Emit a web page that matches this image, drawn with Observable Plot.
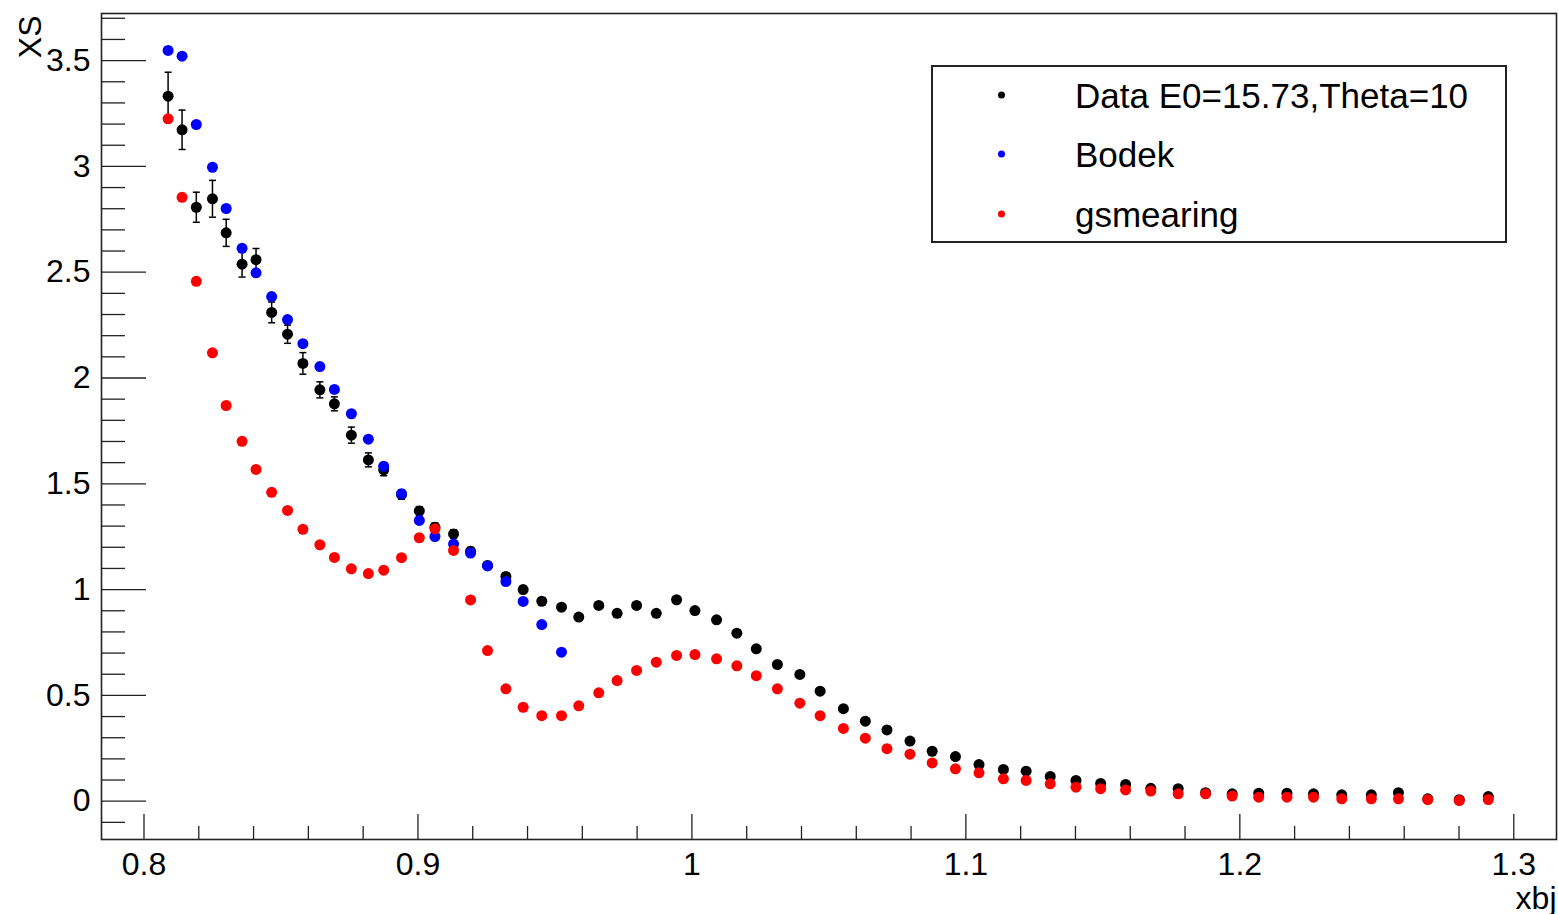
<!DOCTYPE html>
<html>
<head>
<meta charset="utf-8">
<script src="https://cdn.jsdelivr.net/npm/d3@7"></script>
<script src="https://cdn.jsdelivr.net/npm/@observablehq/plot@0.6"></script>
<style>
  html, body { margin: 0; padding: 0; background: #fff; overflow: hidden; }
  #wrap { position: relative; width: 1558px; height: 914px; font-family: "Liberation Sans", Arial, Helvetica, sans-serif; }
  #wrap svg { display: block; }
  #legend { position: absolute; left: 931px; top: 65px; width: 572px; height: 174px; border: 2px solid #222; background: #fff; }
  .lrow { position: absolute; left: 0; width: 100%; height: 0; }
  .ldot { position: absolute; left: 65px; width: 7px; height: 7px; border-radius: 50%; transform: translateY(-50%); }
  .ltxt { position: absolute; left: 142px; font-size: 35px; line-height: 1; white-space: nowrap; transform: translateY(-50%); color: #000; }
</style>
</head>
<body>
<div id="wrap"><div id="chart"></div><div id="legend"></div></div>
<script>
// ---- data ----
const xbj = [0.8088, 0.8139, 0.8191, 0.8250, 0.8300, 0.8358, 0.8409, 0.8466, 0.8524, 0.8580,
             0.8642, 0.8695, 0.8757, 0.8819, 0.8875, 0.8940, 0.9005, 0.9062, 0.9130, 0.9192,
             0.9254, 0.9321, 0.9384, 0.9452, 0.9524, 0.9587, 0.9660, 0.9727, 0.9798, 0.9870,
             0.9944, 1.0011, 1.0090, 1.0164, 1.0235, 1.0312, 1.0394, 1.0468, 1.0553, 1.0633,
             1.0712, 1.0796, 1.0877, 1.0962, 1.1048, 1.1137, 1.1220, 1.1308, 1.1402, 1.1492,
             1.1583, 1.1675, 1.1775, 1.1875, 1.1972, 1.2069, 1.2172, 1.2269, 1.2372, 1.2480,
             1.2579, 1.2686, 1.2801, 1.2907];

const dataXS = [3.332, 3.173, 2.807, 2.847, 2.686, 2.538, 2.559, 2.310, 2.207, 2.069,
                1.944, 1.878, 1.730, 1.613, 1.566, 1.449, 1.372, 1.295, 1.263, 1.181,
                1.114, 1.062, 1.000, 0.945, 0.917, 0.870, 0.925, 0.888, 0.925, 0.888,
                0.952, 0.901, 0.857, 0.794, 0.720, 0.646, 0.599, 0.520, 0.437, 0.378,
                0.337, 0.284, 0.236, 0.211, 0.173, 0.150, 0.142, 0.117, 0.098, 0.084,
                0.079, 0.061, 0.059, 0.040, 0.035, 0.038, 0.038, 0.035, 0.030, 0.030,
                0.040, 0.011, 0.007, 0.022];

const dataErr = [0.113, 0.093, 0.071, 0.087, 0.064, 0.061, 0.053, 0.049, 0.043, 0.051,
                 0.038, 0.033, 0.038, 0.033, 0.028, 0.022, 0.020, 0.020, 0.020, 0.018,
                 0.018, 0.016, 0.016, 0.015, 0.015, 0.014, 0.014, 0.014, 0.013, 0.013,
                 0.013, 0.012, 0.012, 0.011, 0.011, 0.010, 0.010, 0.009, 0.009, 0.008,
                 0.008, 0.007, 0.007, 0.006, 0.006, 0.006, 0.005, 0.005, 0.005, 0.004,
                 0.004, 0.004, 0.004, 0.003, 0.003, 0.003, 0.003, 0.003, 0.003, 0.003,
                 0.003, 0.003, 0.003, 0.003];

const bodekXS = [3.548, 3.521, 3.198, 2.996, 2.801, 2.613, 2.497, 2.385, 2.276, 2.162,
                 2.054, 1.946, 1.831, 1.711, 1.583, 1.453, 1.327, 1.251, 1.215, 1.173,
                 1.112, 1.038, 0.944, 0.835, 0.704];

const gsmXS = [3.225, 2.854, 2.457, 2.119, 1.870, 1.701, 1.568, 1.460, 1.374, 1.285,
               1.212, 1.152, 1.098, 1.076, 1.092, 1.151, 1.245, 1.287, 1.185, 0.951,
               0.712, 0.531, 0.444, 0.404, 0.404, 0.451, 0.512, 0.570, 0.618, 0.657,
               0.689, 0.693, 0.673, 0.640, 0.593, 0.531, 0.463, 0.404, 0.344, 0.298,
               0.248, 0.222, 0.181, 0.153, 0.134, 0.106, 0.098, 0.082, 0.066, 0.059,
               0.053, 0.048, 0.035, 0.035, 0.024, 0.019, 0.019, 0.019, 0.011, 0.011,
               0.011, 0.007, 0.003, 0.008];

const seriesNames = ["Data E0=15.73,Theta=10", "Bodek", "gsmearing"];
const seriesColors = ["#000000", "#0000ff", "#ff0000"];

const xMajor = [0.8, 0.9, 1.0, 1.1, 1.2, 1.3];
const xMajorLabels = ["0.8", "0.9", "1", "1.1", "1.2", "1.3"];
const xMinor = [0.82, 0.84, 0.86, 0.88, 0.92, 0.94, 0.96, 0.98, 1.02, 1.04, 1.06, 1.08,
                1.12, 1.14, 1.16, 1.18, 1.22, 1.24, 1.26, 1.28];
const yMajor = [0, 0.5, 1, 1.5, 2, 2.5, 3, 3.5];
const yMajorLabels = ["0", "0.5", "1", "1.5", "2", "2.5", "3", "3.5"];
const yMinor = [-0.1, 0.1, 0.2, 0.3, 0.4, 0.6, 0.7, 0.8, 0.9, 1.1, 1.2, 1.3, 1.4, 1.6, 1.7, 1.8, 1.9,
                2.1, 2.2, 2.3, 2.4, 2.6, 2.7, 2.8, 2.9, 3.1, 3.2, 3.3, 3.4, 3.6, 3.7];
const xTitle = "xbj";
const yTitle = "XS";

// ---- tables ----
const dataRows = xbj.map((x, i) => ({x, y: dataXS[i], lo: dataXS[i] - dataErr[i], hi: dataXS[i] + dataErr[i]}));
const bodekRows = bodekXS.map((y, i) => ({x: xbj[i], y}));
const gsmRows = gsmXS.map((y, i) => ({x: xbj[i], y}));

const capSymbol = {draw(ctx) { ctx.moveTo(-3.5, 0); ctx.lineTo(3.5, 0); }};
const tickStyle = {fill: "none", stroke: "#222", strokeWidth: 1.3, label: null};

const chart = Plot.plot({
  width: 1558,
  height: 914,
  marginLeft: 101,
  marginRight: 2,
  marginTop: 13,
  marginBottom: 75,
  style: {fontFamily: '"Liberation Sans", Arial, Helvetica, sans-serif', fontSize: "32px", color: "#000", background: "#fff", overflow: "visible"},
  x: {domain: [0.78449, 1.31559]},
  y: {domain: [-0.181, 3.7226]},
  marks: [
    // inward ticks (ROOT style)
    Plot.axisX(xMinor, {anchor: "bottom", tickSize: -13, ...tickStyle}),
    Plot.axisX(xMajor, {anchor: "bottom", tickSize: -25, ...tickStyle}),
    Plot.axisX(xMajor, {anchor: "bottom", tickSize: 0, tickPadding: 13, label: null,
      tickFormat: d => xMajorLabels[xMajor.indexOf(d)]}),
    Plot.axisY(yMinor, {anchor: "left", tickSize: -24, ...tickStyle}),
    Plot.axisY(yMajor, {anchor: "left", tickSize: -45, ...tickStyle}),
    Plot.axisY(yMajor, {anchor: "left", tickSize: 0, tickPadding: 11, label: null,
      tickFormat: d => yMajorLabels[yMajor.indexOf(d)]}),
    // axis titles
    Plot.text([xTitle], {frameAnchor: "bottom-right", text: d => d, textAnchor: "end", lineAnchor: "bottom", dy: 69, fontSize: 32}),
    Plot.text([yTitle], {frameAnchor: "top-left", text: d => d, rotate: -90, textAnchor: "end", lineAnchor: "bottom", dx: -61, dy: 2, fontSize: 32}),
    // data with error bars
    Plot.ruleX(dataRows, {x: "x", y1: "lo", y2: "hi", stroke: seriesColors[0], strokeWidth: 1.5}),
    Plot.dot(dataRows, {x: "x", y: "hi", symbol: capSymbol, stroke: seriesColors[0], strokeWidth: 1.5, fill: "none"}),
    Plot.dot(dataRows, {x: "x", y: "lo", symbol: capSymbol, stroke: seriesColors[0], strokeWidth: 1.5, fill: "none"}),
    Plot.dot(dataRows, {x: "x", y: "y", r: 5.5, fill: seriesColors[0], stroke: "none"}),
    Plot.dot(bodekRows, {x: "x", y: "y", r: 5.5, fill: seriesColors[1], stroke: "none"}),
    Plot.dot(gsmRows, {x: "x", y: "y", r: 5.5, fill: seriesColors[2], stroke: "none"}),
    Plot.frame({stroke: "#222", strokeWidth: 1.6})
  ]
});
document.getElementById("chart").appendChild(chart);

// ---- legend ----
const legend = document.getElementById("legend");
const rowTops = [28, 87, 147];
seriesNames.forEach((name, i) => {
  const row = document.createElement("div");
  row.className = "lrow";
  row.style.top = rowTops[i] + "px";
  const dot = document.createElement("div");
  dot.className = "ldot";
  dot.style.background = seriesColors[i];
  const txt = document.createElement("div");
  txt.className = "ltxt";
  txt.textContent = name;
  row.appendChild(dot);
  row.appendChild(txt);
  legend.appendChild(row);
});
</script>
</body>
</html>
